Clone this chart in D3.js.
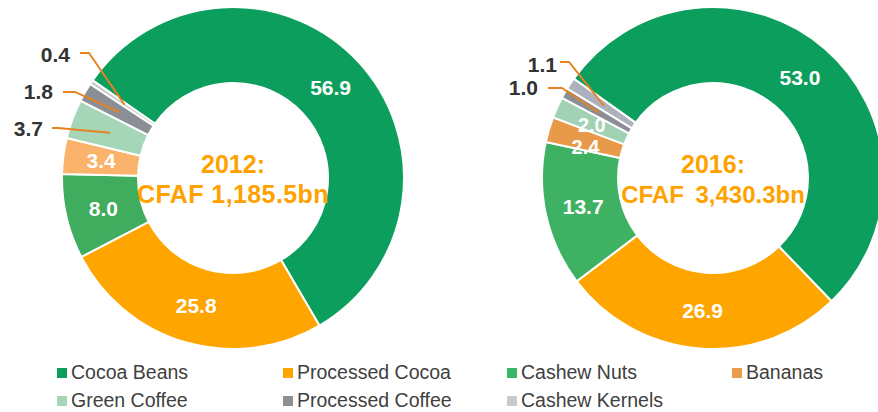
<!DOCTYPE html>
<html><head><meta charset="utf-8">
<script src="https://cdn.jsdelivr.net/npm/d3@7"></script>
<style>
html,body{margin:0;padding:0;background:#fff;}
svg{display:block;font-family:"Liberation Sans",Arial,sans-serif;}
</style></head>
<body>
<svg id="chart" width="878" height="412"></svg>
<script>
// ---- data ----
const categories = ["Cocoa Beans","Processed Cocoa","Cashew Nuts","Bananas","Green Coffee","Processed Coffee","Cashew Kernels"];
const values2012 = [56.9, 25.8, 8.0, 3.4, 3.7, 1.8, 0.4];
const values2016 = [53.0, 26.9, 13.7, 2.4, 2.0, 1.0, 1.1];
const yearLabels = ["2012:", "2016:"];
const totalLabels = ["CFAF 1,185.5bn", "CFAF 3,430.3bn"];
const legendColors = ["#0b9e5c","#ffa500","#3cb765","#e99c4c","#a5d6b7","#8c8f94","#c9cacd"];
const colors2012 = ["#0b9e5c","#ffa500","#40ac5e","#fbb26a","#a5d6b7","#8b8e94","#c8c9cd"];
const colors2016 = ["#0b9e5c","#ffa500","#3fb163","#e8994a","#a0d2b3","#8c8f96","#adb1bd"];

// ---- layout ----
const rOuter = 171, rInner = 95;
const charts = [
  {values: values2012, colors: colors2012, cx: 233, cy: 178, start: -55.2, shift: {},
   totalStyle: {size: 25, ls: 0.4, ws: 0},
   outside: {4: {tx: 43, ty: 136, sx: 52, sy: 128, ex: 58, ey: 128},
             5: {tx: 53, ty: 99, sx: 63, sy: 92, ex: 75, ey: 92},
             6: {tx: 70, ty: 62, sx: 80, sy: 53, ex: 89, ey: 53}}},
  {values: values2016, colors: colors2016, cx: 713, cy: 178, start: -54.5, shift: {3: [0, 6], 4: [0, 2]},
   totalStyle: {size: 24, ls: 0, ws: 5},
   outside: {5: {tx: 538, ty: 95, sx: 548, sy: 88, ex: 562, ey: 88},
             6: {tx: 557, ty: 72, sx: 560, sy: 62, ex: 569, ey: 62}}}
];

const svg = d3.select("#chart");
const arc = d3.arc().innerRadius(rInner).outerRadius(rOuter);
const labelArc = d3.arc().innerRadius(133).outerRadius(133);
const leaderArc = d3.arc().innerRadius(131).outerRadius(131);

charts.forEach((c, ci) => {
  const a0 = c.start * Math.PI / 180;
  const pie = d3.pie().sort(null).value(d => d).startAngle(a0).endAngle(a0 + 2 * Math.PI);
  const arcs = pie(c.values);
  const g = svg.append("g").attr("transform", `translate(${c.cx},${c.cy})`);
  g.selectAll("path.slice").data(arcs).join("path")
    .attr("class", "slice")
    .attr("d", arc)
    .attr("fill", (d, i) => c.colors[i])
    .attr("stroke", "#fff").attr("stroke-width", 2);

  // inside labels
  g.selectAll("text.in").data(arcs.filter(d => !(d.index in c.outside))).join("text")
    .attr("class", "in")
    .attr("transform", d => {
      const [x, y] = labelArc.centroid(d);
      const s = c.shift[d.index] || [0, 0];
      return `translate(${x + s[0]},${y + s[1]})`;
    })
    .attr("text-anchor", "middle").attr("dy", "0.36em")
    .attr("fill", "#fff").attr("font-weight", "bold")
    .attr("font-size", d => d.value < 3 ? 20 : 21)
    .text(d => d.value.toFixed(1));

  // outside labels with leader lines
  arcs.forEach((d, i) => {
    const o = c.outside[i];
    if (!o) return;
    const [px, py] = leaderArc.centroid(d);
    svg.append("polyline")
      .attr("points", `${o.sx},${o.sy} ${o.ex},${o.ey} ${c.cx + px},${c.cy + py}`)
      .attr("fill", "none").attr("stroke", "#e8821e").attr("stroke-width", 1.9);
    svg.append("text")
      .attr("x", o.tx).attr("y", o.ty)
      .attr("text-anchor", "end")
      .attr("fill", "#333").attr("font-weight", "bold").attr("font-size", 21)
      .text(d.value.toFixed(1));
  });

  // center text
  svg.append("text").attr("x", c.cx).attr("y", 173)
    .attr("text-anchor", "middle").attr("fill", "#ffa200")
    .attr("font-weight", "bold").attr("font-size", 25)
    .text(yearLabels[ci]);
  svg.append("text").attr("x", c.cx).attr("y", 203)
    .attr("text-anchor", "middle").attr("fill", "#ffa200")
    .attr("font-weight", "bold").attr("font-size", c.totalStyle.size)
    .attr("letter-spacing", c.totalStyle.ls)
    .attr("word-spacing", c.totalStyle.ws)
    .text(totalLabels[ci]);
});

// legend
const colX = [57, 283, 507, 732];
const rowY = [368, 396];
const lg = svg.append("g");
categories.forEach((name, i) => {
  const col = i < 4 ? i : i - 4;
  const row = i < 4 ? 0 : 1;
  const x = colX[col], y = rowY[row];
  lg.append("rect").attr("x", x).attr("y", y).attr("width", 10).attr("height", 10)
    .attr("fill", legendColors[i]);
  lg.append("text").attr("x", x + 14).attr("y", y + 11)
    .attr("fill", "#404040").attr("font-size", 19.5)
    .text(name);
});
</script>
</body></html>
